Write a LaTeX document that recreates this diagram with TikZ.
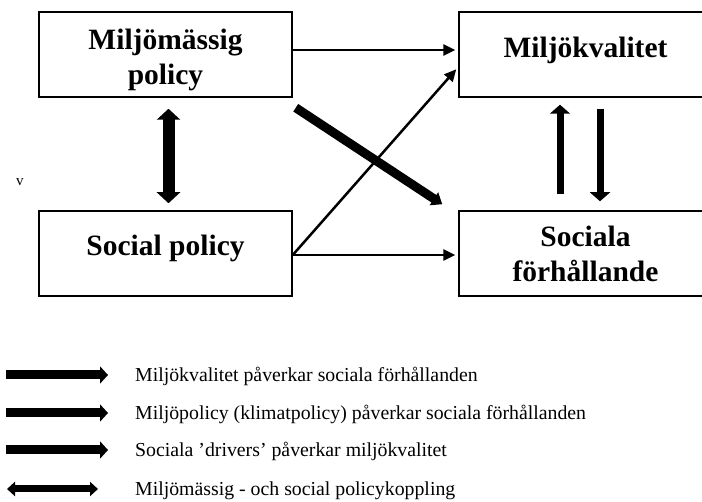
\documentclass[tikz,border=0pt]{standalone}
\usepackage{fontspec}
\setmainfont{Liberation Serif}
\usetikzlibrary{arrows.meta}

\tikzset{
  policybox/.style={draw, line width=1.5pt, inner sep=0pt, minimum width=253pt, minimum height=85pt,
    align=center, font=\fontsize{29.5}{35}\selectfont\bfseries},
  thinarrow/.style={line width=2.5pt, -{Triangle[length=12pt,width=11pt]}},
  fatarrow/.style={line width=9pt, -{Triangle[length=10pt,width=15pt]}},
  linkarrow/.style={line width=12pt, {Triangle[length=11pt,width=23pt]}-{Triangle[length=11pt,width=23pt]}},
  feedarrow/.style={line width=7pt, -{Triangle[length=9pt,width=20pt]}},
  legarrow/.style={line width=9pt, -{Triangle[length=8pt,width=17pt]}},
  leglink/.style={line width=7pt, {Triangle[length=8pt,width=14pt]}-{Triangle[length=8pt,width=14pt]}},
  legtext/.style={anchor=base west, inner sep=0pt, font=\fontsize{19.8}{22}\selectfont}
}

\begin{document}
\begin{tikzpicture}[x=1pt,y=-1pt]
\useasboundingbox (0,0) rectangle (702,502);
\clip (0,0) rectangle (702,502);

% boxes
\node[policybox, text height=67pt] (pol) at (165.5,54.5) {Miljömässig\\policy};
\node[policybox, text depth=14pt] (kval) at (585.5,54.5) {Miljökvalitet};
\node[policybox, text depth=15.5pt] (soc) at (165.5,253.5) {Social policy};
\node[policybox] (forh) at (585.5,253.5) {Sociala\\förhållande};
\node[anchor=base, inner sep=0pt, font=\fontsize{15}{17}\selectfont] (vmark) at (20,186) {v};

% connections
\draw[thinarrow, shorten >=3pt] ([yshift=4.5pt]pol.east) -- ([yshift=4.5pt]kval.west);
\draw[thinarrow, shorten >=3pt] ([yshift=-1.5pt]soc.east) -- ([yshift=-1.5pt]forh.west);
\draw[thinarrow, shorten >=3pt] ([yshift=-1.5pt]soc.east) -- ([yshift=-12.5pt]kval.west);
\draw[fatarrow] ([xshift=3pt,yshift=-10pt]pol.south east) -- ([xshift=-16pt,yshift=6pt]forh.north west);
\draw[linkarrow, shorten <=11pt, shorten >=7pt] ([xshift=3pt]pol.south) -- ([xshift=3pt]soc.north);
\draw[feedarrow, shorten <=16pt, shorten >=7pt] ([xshift=-25.5pt]forh.north) -- ([xshift=-25.5pt]kval.south);
\draw[feedarrow, shorten <=11pt, shorten >=9pt] ([xshift=14.5pt]kval.south) -- ([xshift=14.5pt]forh.north);

% legend
\coordinate (s1) at (6,375);
\coordinate (e1) at (108,375);
\coordinate (s2) at (6,413);
\coordinate (e2) at (108,413);
\coordinate (s3) at (6,450);
\coordinate (e3) at (108,450);
\coordinate (s4) at (7,489);
\coordinate (e4) at (98,489);
\draw[legarrow] (s1) -- (e1);
\draw[legarrow] (s2) -- (e2);
\draw[legarrow] (s3) -- (e3);
\draw[leglink] (s4) -- (e4);
\node[legtext] (leg1) at (135,382) {Miljökvalitet påverkar sociala förhållanden};
\node[legtext] (leg2) at (135,420) {Miljöpolicy (klimatpolicy) påverkar sociala förhållanden};
\node[legtext] (leg3) at (135,457) {Sociala ’drivers’ påverkar miljökvalitet};
\node[legtext] (leg4) at (135,496) {Miljömässig - och social policykoppling};
\end{tikzpicture}
\end{document}
